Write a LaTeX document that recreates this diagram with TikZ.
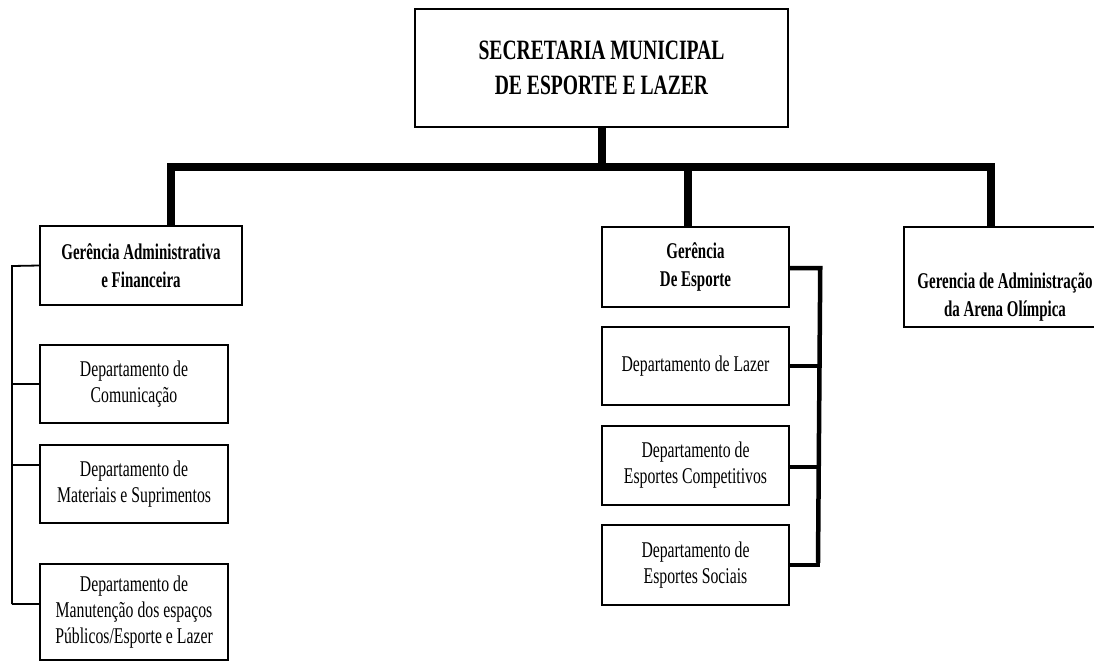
\documentclass[tikz,border=0pt]{standalone}
\usepackage{fontspec}
\setmainfont{Liberation Serif}[FakeStretch=0.7]
\newfontfamily\gbold{Liberation Serif Bold}[FakeStretch=0.665]
\begin{document}
\begin{tikzpicture}[x=1pt,y=-1pt,
  box/.style={draw, line width=1.8pt, align=center, inner sep=0pt, fill=white,
    font=\fontsize{22.5}{26}\selectfont},
  bbox/.style={box, font=\fontsize{22.5}{28}\gbold},
  bus/.style={line width=7.5pt},
  sub/.style={line width=4.5pt},
  thin/.style={line width=1.8pt}]
\useasboundingbox (0,0) rectangle (1094,662);
% top
\node[bbox, minimum width=373, minimum height=118, font=\fontsize{28}{35}\selectfont\bfseries] (sec) at (601.5,68) {SECRETARIA MUNICIPAL\\DE ESPORTE E LAZER};
% gerencias
\node[bbox, minimum width=202, minimum height=79] (gaf) at (141,265.5) {Gerência Administrativa\\e Financeira};
\node[bbox, minimum width=187, minimum height=80] (ge) at (695.5,267) {Gerência\\De Esporte};
\node[box, minimum width=202, minimum height=100] (arena) at (1005,277) {};
\node[font=\fontsize{22.5}{28}\gbold, align=center, inner sep=0pt] (arenaT) at (1005,297) {Gerencia de Administração\\da Arena Olímpica};
% left departments
\node[box, minimum width=188, minimum height=78] (com) at (134,384) {Departamento de\\Comunicação};
\node[box, minimum width=188, minimum height=78] (mat) at (134,484) {Departamento de\\Materiais e Suprimentos};
\node[box, minimum width=188, minimum height=96] (man) at (134,612) {Departamento de\\Manutenção dos espaços\\Públicos/Esporte e Lazer};
% middle departments
\node[box, minimum width=187, minimum height=78] (laz) at (695.5,366) {Departamento de Lazer};
\node[box, minimum width=187, minimum height=79] (comp) at (695.5,465.5) {Departamento de\\Esportes Competitivos};
\node[box, minimum width=187, minimum height=80] (soc) at (695.5,565) {Departamento de\\Esportes Sociais};
% coordinates
\coordinate (busL) at (171,167);
\coordinate (busR) at (991,167);
\coordinate (busS) at (602,167);
\coordinate (busM) at (688,167);
\coordinate (lt) at (12,266);
\coordinate (lb) at (12,604);
\coordinate (rt) at (818,268);
\coordinate (rb) at (818,565);
% bus
\draw[bus] (sec.south -| busS) -- (busS);
\draw[bus, line cap=butt] ([xshift=-3.75pt]busL) -- ([xshift=3.75pt]busR);
\draw[bus] ([yshift=-3.75pt]busL) -- (busL |- gaf.north);
\draw[bus] (busM) -- (busM |- ge.north);
\draw[bus] (busR) -- (busR |- arena.north);
% left thin connectors
\draw[thin] (gaf.west) -- (lt) -- (lb);
\draw[thin] (com.west) -- (com.west -| lt);
\draw[thin] (mat.west |- 0,465) -- (12,465);
\draw[thin] (man.west |- lb) -- (lb);
% middle connectors
\draw[sub] (ge.east |- rt) -- ([xshift=2.25pt]rt) -- ([yshift=2.25pt]rb);
\draw[sub] (laz.east) -- (laz.east -| rt);
\draw[sub] (comp.east |- 0,467) -- (818,467);
\draw[sub] (soc.east) -- ([xshift=2.25pt]rb);
\end{tikzpicture}
\end{document}
